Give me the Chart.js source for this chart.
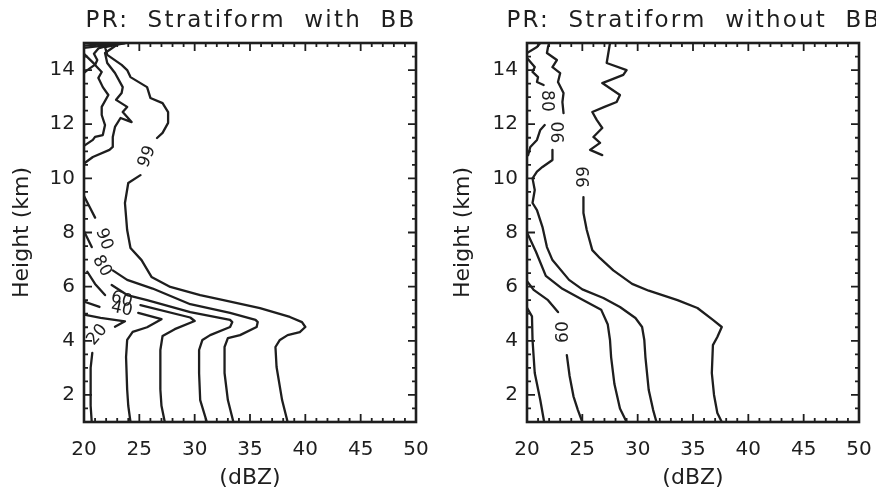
<!DOCTYPE html>
<html><head><meta charset="utf-8">
<script src="https://cdn.jsdelivr.net/npm/chart.js@4.4.0/dist/chart.umd.min.js"></script>
<style>
html,body{margin:0;padding:0;background:#fff;}
#wrap{position:relative;width:876px;height:490px;overflow:hidden;}
canvas{position:absolute;top:0;}
</style></head><body>
<div id="wrap">
<canvas id="c1" width="438" height="490" style="left:0"></canvas>
<canvas id="c2" width="438" height="490" style="left:438px"></canvas>
</div>
<script>
// ---- axis ticks ----
const xTicks = [20, 25, 30, 35, 40, 45, 50];
const yTicks = [2, 4, 6, 8, 10, 12, 14];

// ---- Stratiform with BB: percentile contours, [dBZ, km]; null = break ----
const bbP20 = [[20.0,4.97],[21.5,4.85],[23.7,4.72],[22.8,4.52], null,
  [20.75,3.55],[20.6,3.0],[20.6,2.2],[20.6,1.6],[20.7,1.0]];
const bbP40 = [[20.0,5.45],[21.4,5.25], null,
  [24.9,5.03],[27.0,4.8],[25.7,4.5],[24.4,4.33],[23.9,4.03],[23.8,3.4],[23.9,2.2],[24.0,1.6],[24.2,1.0], null,
  [20.0,14.9],[23.0,15.0]];
const bbP60 = [[20.3,6.55],[21.0,6.1],[21.9,5.69], null,
  [25.1,5.32],[29.6,4.86],[30.0,4.73],[28.2,4.43],[27.1,4.18],[26.9,3.66],[26.9,2.2],[27.0,1.6],[27.3,1.0], null,
  [20.0,14.6],[21.0,14.2],[20.3,14.0],[20.0,13.9], null, [20.0,14.82],[23.7,15.0]];
const bbP80 = [[20.0,8.05],[20.7,7.46], null,
  [22.5,6.06],[23.9,5.69],[25.7,5.5],[29.6,5.06],[33.2,4.77],[33.4,4.69],[33.2,4.51],[31.4,4.21],[30.7,4.03],[30.4,3.66],[30.4,2.8],[30.5,1.81],[31.1,1.0], null,
  [20.0,11.2],[20.8,11.42],[21.0,11.53],[21.7,11.6],[21.9,11.97],[21.6,12.34],[21.6,12.64],[22.2,13.08],[21.7,13.37],[21.3,13.71],[21.6,13.93],[21.0,14.19],[21.2,14.37],[20.9,14.6],[21.3,14.8],[23.0,15.0]];
const bbP90 = [[20.0,9.35],[20.5,8.95],[21.0,8.55], null,
  [22.6,6.6],[23.9,6.25],[26.2,5.93],[29.6,5.35],[33.2,5.03],[35.5,4.77],[35.7,4.69],[35.6,4.51],[34.1,4.21],[33.0,4.10],[32.7,3.77],[32.7,2.81],[33.0,1.81],[33.5,1.0], null,
  [20.0,10.55],[20.8,10.79],[22.3,11.05],[22.6,11.16],[22.6,11.53],[22.8,11.9],[23.3,12.23],[24.3,12.08],[23.5,12.45],[23.9,12.64],[22.9,12.9],[23.4,13.15],[23.5,13.37],[22.8,13.89],[22.1,14.26],[21.9,14.63],[23.2,15.0]];
const bbP99 = [[38.4,1.0],[37.9,1.81],[37.4,3.03],[37.3,3.77],[37.7,4.03],[38.4,4.21],[39.5,4.32],[40.0,4.51],[39.7,4.69],[38.6,4.88],[35.9,5.21],[32.6,5.5],[30.5,5.69],[27.8,5.99],[26.1,6.36],[25.2,6.98],[24.2,7.43],[23.9,8.09],[23.7,9.09],[24.0,9.83],[25.1,10.12], null,
  [26.6,11.49],[27.1,11.68],[27.6,12.05],[27.6,12.45],[27.1,12.78],[26.0,12.97],[25.7,13.37],[24.2,13.74],[23.9,14.0],[23.4,14.19],[22.1,14.56],[21.9,14.85],[23.7,15.0]];

// ---- Stratiform without BB ----
const nbP40 = [[20.0,5.22],[20.45,4.9],[20.5,4.03],[20.7,2.81],[21.2,1.81],[21.55,1.0]];
const nbP60 = [[20.0,6.2],[20.6,5.88],[21.9,5.5],[22.8,5.06], null,
  [23.6,3.47],[23.85,2.7],[24.2,1.95],[24.6,1.44],[25.0,1.0]];
const nbP80 = [[20.0,8.0],[20.8,7.3],[21.7,6.4],[23.2,5.92],[25.1,5.5],[26.7,5.15],[27.3,4.6],[27.5,4.03],[27.6,3.4],[27.9,2.4],[28.4,1.5],[29.0,1.0], null,
  [20.1,10.86],[20.3,11.16],[20.9,11.42],[21.2,11.79],[21.6,11.97], null,
  [21.5,13.45],[20.9,13.56],[21.0,13.74],[20.5,13.93],[20.7,14.11],[20.0,14.45], null,
  [20.0,14.63],[20.9,14.85],[21.2,15.0]];
const nbP90 = [[22.0,15.0],[21.9,14.85],[21.8,14.63],[22.7,14.37],[22.3,14.11],[23.0,13.89],[22.8,13.56],[23.3,13.15],[23.2,12.82],[23.3,12.41], null,
  [22.3,11.05],[22.3,10.68],[21.4,10.42],[20.9,10.25],[20.5,10.0],[20.7,9.57],[20.5,9.09],[20.9,8.83],[21.4,8.2],[21.8,7.46],[22.3,6.98],[23.8,6.25],[25.0,5.9],[26.9,5.58],[28.4,5.25],[29.8,4.84],[30.4,4.51],[30.6,4.03],[30.7,3.4],[31.0,2.18],[31.4,1.44],[31.7,1.0]];
const nbP99 = [[27.5,15.0],[27.2,14.26],[29.0,14.0],[28.7,13.82],[27.5,13.63],[26.8,13.52],[28.4,13.08],[28.1,12.82],[27.0,12.64],[25.9,12.45],[26.3,12.16],[26.8,11.86],[26.0,11.53],[26.6,11.31],[25.7,11.05],[26.8,10.86], null,
  [25.1,9.31],[25.1,8.72],[25.4,8.09],[25.9,7.35],[26.6,7.05],[27.8,6.6],[29.5,6.1],[31.0,5.85],[33.6,5.5],[35.4,5.21],[36.8,4.77],[37.6,4.51],[37.2,4.14],[36.8,3.84],[36.7,2.81],[36.9,2.0],[37.2,1.33],[37.6,1.0]];

// ---- contour labels [text, dBZ, km, rotation deg] ----
const bbLabels = [['99',25.7,10.8,-68],['90',21.8,7.75,70],['80',21.6,6.76,60],['60',23.4,5.52,15],['40',23.4,5.17,12],['20',21.2,4.22,-50]];
const nbLabels = [['80',21.8,12.86,90],['90',22.9,11.7,-90],['99',25.2,10.05,-90],['60',23.35,4.32,-90]];

const FONT = '"DejaVu Sans", "Liberation Sans", sans-serif';
const INK = '#1e1e1e';

function makePanel(id, titleText, series, labels, axisW, rightPad, yTitlePad) {
  const datasets = series.map(s => ({
    data: s.map(p => p ? {x: p[0], y: p[1]} : {x: null, y: null}),
    showLine: true, spanGaps: false, borderColor: INK, borderWidth: 2.3,
    pointRadius: 0, pointHoverRadius: 0, tension: 0, fill: false,
    borderJoinStyle: 'round', borderCapStyle: 'round'
  }));
  const decor = {
    id: 'decor_' + id,
    afterDatasetsDraw(chart) {
      const {ctx, chartArea: a, scales: {x, y}} = chart;
      ctx.save();
      ctx.strokeStyle = INK; ctx.lineWidth = 1.8; ctx.lineCap = 'butt';
      ctx.beginPath();
      for (let i = 0; i <= 30; i++) {
        const v = xTicks[0] + i;
        const px = x.getPixelForValue(v);
        const len = (i % 5 === 0) ? 8 : 4;
        ctx.moveTo(px, a.bottom); ctx.lineTo(px, a.bottom - len);
        ctx.moveTo(px, a.top); ctx.lineTo(px, a.top + len);
      }
      for (let i = 0; i <= 28; i++) {
        const v = 1 + i * 0.5;
        const py = y.getPixelForValue(v);
        const len = (v % 2 === 0) ? 8 : 4;
        ctx.moveTo(a.left, py); ctx.lineTo(a.left + len, py);
        ctx.moveTo(a.right, py); ctx.lineTo(a.right - len, py);
      }
      ctx.stroke();
      ctx.lineWidth = 2.6;
      ctx.strokeRect(a.left, a.top, a.right - a.left, a.bottom - a.top);
      // contour labels
      ctx.fillStyle = INK;
      ctx.font = '17px ' + FONT;
      ctx.textAlign = 'center'; ctx.textBaseline = 'middle';
      labels.forEach(l => {
        ctx.save();
        ctx.translate(x.getPixelForValue(l[1]), y.getPixelForValue(l[2]));
        ctx.rotate(l[3] * Math.PI / 180);
        ctx.fillText(l[0], 0, 0);
        ctx.restore();
      });
      // title
      ctx.font = '23px ' + FONT;
      try { ctx.letterSpacing = '2.2px'; ctx.wordSpacing = '9px'; } catch (e) {}
      ctx.fillText(titleText, (a.left + a.right) / 2 + 1, 21);
      ctx.restore();
    }
  };
  return new Chart(document.getElementById(id), {
    type: 'scatter',
    data: {datasets},
    options: {
      responsive: false, animation: false, devicePixelRatio: 1, events: [],
      layout: {padding: {top: 43, right: rightPad, bottom: 0, left: 0}},
      plugins: {legend: {display: false}, tooltip: {enabled: false}, title: {display: false}},
      scales: {
        x: {
          type: 'linear', min: 20, max: 50,
          afterBuildTicks: s => { s.ticks = xTicks.map(v => ({value: v})); },
          afterFit: s => { s.height = 68; s.paddingLeft = 0; s.paddingRight = 0; },
          grid: {display: false, drawTicks: false}, border: {display: false},
          ticks: {font: {family: FONT, size: 20}, color: INK, padding: 16, maxRotation: 0, autoSkip: false},
          title: {display: true, text: '(dBZ)', font: {family: FONT, size: 22}, color: INK, padding: {top: 0, bottom: -1}}
        },
        y: {
          type: 'linear', min: 1, max: 15,
          afterBuildTicks: s => { s.ticks = yTicks.map(v => ({value: v})); },
          afterFit: s => { s.width = axisW; s.paddingTop = 0; s.paddingBottom = 0; },
          grid: {display: false, drawTicks: false}, border: {display: false},
          ticks: {font: {family: FONT, size: 20}, color: INK, padding: 9, autoSkip: false},
          title: {display: true, text: 'Height (km)', font: {family: FONT, size: 22}, color: INK, padding: {top: yTitlePad, bottom: 0}}
        }
      }
    },
    plugins: [decor]
  });
}

makePanel('c1', 'PR: Stratiform with BB', [bbP20, bbP40, bbP60, bbP80, bbP90, bbP99], bbLabels, 84, 22, 9.5);
makePanel('c2', 'PR: Stratiform without BB', [nbP40, nbP60, nbP80, nbP90, nbP99], nbLabels, 89, 17, 12.5);
</script>
</body></html>
